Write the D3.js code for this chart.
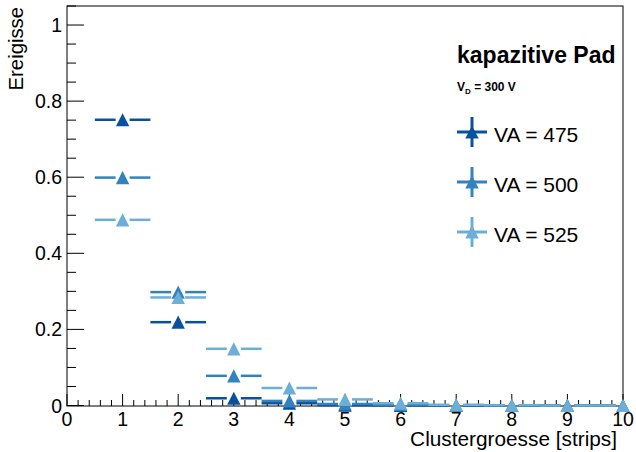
<!DOCTYPE html>
<html><head><meta charset="utf-8">
<script src="https://cdn.jsdelivr.net/npm/d3@7"></script>
<style>body{margin:0;background:#fff}svg{display:block}text{font-family:"Liberation Sans",Arial,Helvetica,sans-serif}</style>
</head><body><svg id="c" width="636" height="452"></svg>
<script>
const xCats = [1,2,3,4,5,6,7,8,9,10];
const va475 = [0.751,0.219,0.019,0.006,0.001,0.0005,0,0,0,0];
const va500 = [0.599,0.298,0.078,0.012,0.004,0.002,0.0005,0,0,0];
const va525 = [0.488,0.284,0.149,0.046,0.016,0.006,0.002,0.001,0,0];
const seriesNames = ["VA = 475","VA = 500","VA = 525"];
const seriesColors = ["#08519c","#3182bd","#6baed6"];
const xTicks = [0,1,2,3,4,5,6,7,8,9,10];
const yTicks = [0,0.2,0.4,0.6,0.8,1];

const svg = d3.select("#c");
const L=67,R=623,T=6,B=406;
const x = d3.scaleLinear().domain([0,10]).range([L,R]);
const y = d3.scaleLinear().domain([0,1.05]).range([B-0.5,T]);

svg.append("rect").attr("width",636).attr("height",452).attr("fill","#fff");
svg.append("rect").attr("x",L).attr("y",T).attr("width",R-L).attr("height",B-T)
  .attr("fill","none").attr("stroke","#000").attr("stroke-width",1);

const gx = svg.append("g");
d3.range(0,10.001,0.2).forEach(v=>{
  const major = Math.abs(v-Math.round(v))<1e-6;
  gx.append("line").attr("x1",x(v)).attr("x2",x(v)).attr("y1",B).attr("y2",B-(major?12:6))
    .attr("stroke","#000").attr("stroke-width",1);
});
gx.selectAll("text.xt").data(xTicks).enter().append("text").attr("class","xt")
  .attr("x",d=>x(d)).attr("y",426).attr("text-anchor","middle")
  .attr("font-size",19.5).text(d=>d);
const gy = svg.append("g");
d3.range(0,1.0501,0.05).forEach(v=>{
  const major = Math.abs(v*5-Math.round(v*5))<1e-6;
  gy.append("line").attr("x1",L).attr("x2",L+(major?17:9)).attr("y1",y(v)).attr("y2",y(v))
    .attr("stroke","#000").attr("stroke-width",1);
});
gy.selectAll("text.yt").data(yTicks).enter().append("text").attr("class","yt")
  .attr("x",62).attr("y",d=>y(d)+7).attr("text-anchor","end")
  .attr("font-size",19.5).text(d=>d===0?"0":(d===1?"1":d.toFixed(1)));

svg.append("text").attr("x",617).attr("y",446).attr("text-anchor","end")
  .attr("font-size",20.8).text("Clustergroesse [strips]");
svg.append("text").attr("transform","translate(23,7) rotate(-90)").attr("text-anchor","end")
  .attr("font-size",20.3).text("Ereigisse");

const tri = "M0,-6.6L6.7,6.6L-6.7,6.6Z";
svg.append("clipPath").attr("id","fr").append("rect")
  .attr("x",L).attr("y",0).attr("width",R-L).attr("height",452);
const all = [va475,va500,va525];
all.forEach((vals,si)=>{
  const g = svg.append("g");
  const col = seriesColors[si];
  const gl = g.append("g").attr("clip-path","url(#fr)");
  xCats.forEach((c,i)=>{
    const cx=x(c), cy=y(vals[i]);
    gl.append("line").attr("x1",x(c-0.5)).attr("x2",cx-7).attr("y1",cy).attr("y2",cy)
      .attr("stroke",col).attr("stroke-width",2.5);
    gl.append("line").attr("x1",cx+7).attr("x2",x(c+0.5)).attr("y1",cy).attr("y2",cy)
      .attr("stroke",col).attr("stroke-width",2.5);
  });
  g.selectAll("path").data(vals).enter().append("path")
    .attr("d",tri).attr("fill",col)
    .attr("transform",(d,i)=>`translate(${x(xCats[i])},${y(d)})`);
});

svg.append("text").attr("x",457).attr("y",63).attr("font-size",23).attr("font-weight","bold")
  .text("kapazitive Pad");
const vd = svg.append("text").attr("x",457).attr("y",91).attr("font-size",12).attr("font-weight","bold");
vd.append("tspan").text("V");
vd.append("tspan").attr("font-size",8).attr("dy",3).text("D");
vd.append("tspan").attr("dy",-3).text(" = 300 V");
seriesNames.forEach((n,i)=>{
  const cy = 132+50*i, cx=472, col=seriesColors[i];
  svg.append("line").attr("x1",457).attr("x2",487).attr("y1",cy).attr("y2",cy).attr("stroke",col).attr("stroke-width",3);
  svg.append("line").attr("x1",cx).attr("x2",cx).attr("y1",cy-15).attr("y2",cy+15).attr("stroke",col).attr("stroke-width",3);
  svg.append("path").attr("d",tri).attr("fill",col).attr("transform",`translate(${cx},${cy})`);
  svg.append("text").attr("x",494).attr("y",cy+10).attr("font-size",21).text(n);
});
</script></body></html>
